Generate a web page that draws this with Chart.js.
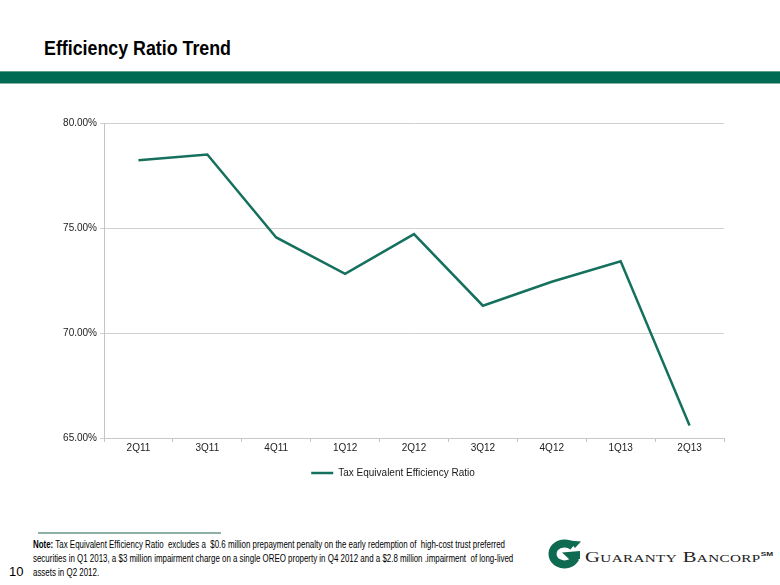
<!DOCTYPE html>
<html><head><meta charset="utf-8">
<script src="https://cdn.jsdelivr.net/npm/chart.js@4.4.0/dist/chart.umd.min.js"></script>
<style>
html,body{margin:0;padding:0;background:#fff;width:780px;height:585px;overflow:hidden;font-family:"Liberation Sans",Arial,sans-serif;}
#title{position:absolute;left:44px;top:36px;font-weight:bold;font-size:20px;line-height:24px;color:#000;white-space:nowrap;transform-origin:left top;display:inline-block;}
#band{position:absolute;left:0;top:71px;width:780px;height:11px;background:#006a53;border-top:1px solid #5e9c8c;border-bottom:1px solid #86b6a9;}
#wrap{position:absolute;left:0;top:100px;width:780px;height:400px;}
#rule{position:absolute;left:38px;top:532px;width:183px;height:2px;background:#8fb0a5;}
#note{position:absolute;left:33px;top:538px;font-size:10px;line-height:14px;color:#000;transform-origin:left top;}
#note div{white-space:pre;}
#note span.l{display:inline-block;}
#pg{position:absolute;left:9px;top:564px;font-size:13px;line-height:16px;color:#000;}
#icon{position:absolute;left:545px;top:539px;}
#brand{position:absolute;left:585px;top:545px;font-family:"Liberation Serif","DejaVu Serif",serif;font-size:15px;line-height:18px;color:#222;white-space:nowrap;transform-origin:left top;display:inline-block;letter-spacing:0.3px;}
#brand .sc{font-size:11px;}
#brand sup{font-size:6px;vertical-align:6px;font-family:"Liberation Sans",Arial,sans-serif;font-weight:bold;letter-spacing:0;}
</style></head>
<body>
<div id="title">Efficiency Ratio Trend</div>
<div id="band"></div>
<div id="wrap"><canvas id="c" width="780" height="400"></canvas></div>
<div id="rule"></div>
<div id="note"><div><span class="l" id="l1"><b>Note:</b> Tax Equivalent Efficiency Ratio  excludes a  $0.6 million prepayment penalty on the early redemption of  high-cost trust preferred</span></div><div>securities in Q1 2013, a $3 million impairment charge on a single OREO property in Q4 2012 and a $2.8 million .impairment  of long-lived</div><div>assets in Q2 2012.</div></div>
<div id="pg">10</div>
<svg id="icon" width="38" height="32" viewBox="0 0 38 32">
  <path d="M 28 7.5 A 12 10.5 0 1 0 30.5 19" fill="none" stroke="#0e6a50" stroke-width="8"/>
  <path d="M 17 13.5 L 35 12 L 35 20 L 24 20 Z" fill="#0e6a50"/>
  <path d="M 24 1.5 L 36 2.5 L 30 9 Z" fill="#0e6a50"/>
</svg>
<div id="brand">G<span class="sc">UARANTY</span> B<span class="sc">ANCORP</span><sup>SM</sup></div>
<script>
const categories = ['2Q11','3Q11','4Q11','1Q12','2Q12','3Q12','4Q12','1Q13','2Q13'];
const efficiencyRatio = [78.23, 78.50, 74.55, 72.82, 74.71, 71.30, 72.44, 73.41, 65.60];
const seriesName = 'Tax Equivalent Efficiency Ratio';
const yMin = 65, yMax = 80, yStep = 5;

// fit HTML text widths to the reference
function fitWidth(el, target){ const w = el.getBoundingClientRect().width; el.style.transform = 'scaleX(' + (target / w) + ')'; }
fitWidth(document.getElementById('title'), 187);
(function(){ const w = document.getElementById('l1').getBoundingClientRect().width; document.getElementById('note').style.transform = 'scaleX(' + (472 / w) + ')'; })();
fitWidth(document.getElementById('brand'), 188);

const FONT = '"Liberation Sans", Arial, sans-serif';
const color = '#15705e';
new Chart(document.getElementById('c').getContext('2d'), {
  type: 'line',
  data: {
    labels: categories,
    datasets: [{
      label: seriesName,
      data: efficiencyRatio,
      borderColor: color,
      backgroundColor: color,
      borderWidth: 2.5,
      pointRadius: 0,
      tension: 0,
      fill: false
    }]
  },
  options: {
    responsive: false,
    animation: false,
    devicePixelRatio: 1,
    layout: { padding: { left: 62, right: 56, top: 23, bottom: 12 } },
    plugins: {
      tooltip: { enabled: false },
      legend: {
        position: 'bottom',
        labels: { boxWidth: 22, boxHeight: 0, padding: 10, color: '#1a1a1a', font: { family: FONT, size: 10 } }
      }
    },
    scales: {
      x: {
        offset: true,
        grid: { offset: true, drawOnChartArea: false, drawTicks: true, tickLength: 4, color: '#c4c4c4' },
        border: { color: '#c8c8c8', width: 1 },
        ticks: { color: '#222', padding: 0, maxRotation: 0, font: { family: FONT, size: 10 } },
        afterFit: s => { s.height = 20; }
      },
      y: {
        min: yMin, max: yMax,
        grid: { color: '#d0d0d0', lineWidth: 1, tickLength: 4 },
        border: { color: '#c4c4c4', width: 1 },
        ticks: { stepSize: yStep, color: '#222', padding: 3, font: { family: FONT, size: 10 }, callback: v => v.toFixed(2) + '%' },
        afterFit: s => { s.width = 42; }
      }
    }
  }
});
</script>
</body></html>
